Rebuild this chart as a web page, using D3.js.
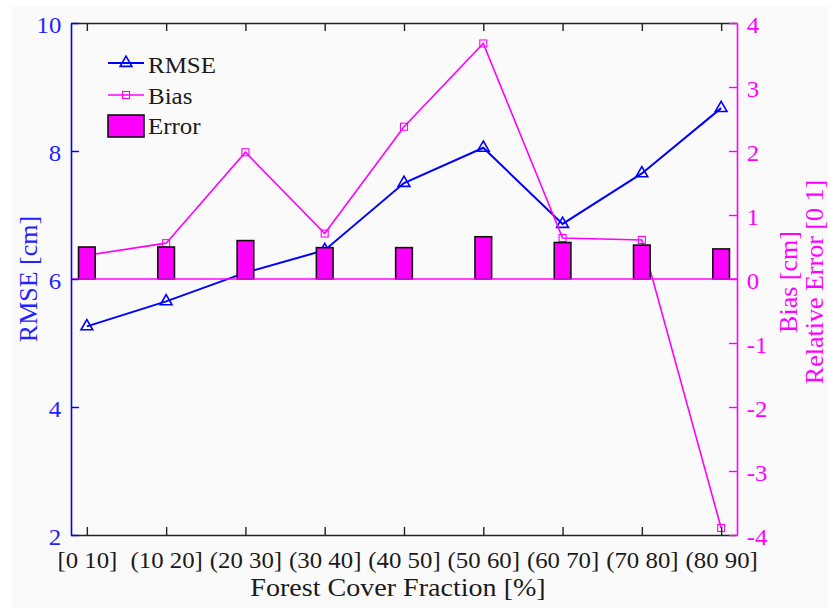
<!DOCTYPE html>
<html>
<head>
<meta charset="utf-8">
<script src="https://cdn.jsdelivr.net/npm/d3@7"></script>
<style>
  html, body { margin: 0; padding: 0; background: #ffffff; }
  svg { display: block; }
  svg text { font-family: "Liberation Serif", "Times New Roman", serif !important; }
</style>
</head>
<body>
<svg id="chart" width="828" height="608"></svg>
<script>
// ---- data ----
const categories = ["[0 10]", "(10 20]", "(20 30]", "(30 40]", "(40 50]", "(50 60]", "(60 70]", "(70 80]", "(80 90]"];
const rmse = [5.26, 5.65, 6.10, 6.45, 7.50, 8.05, 6.86, 7.65, 8.67];
const bias = [0.37, 0.56, 1.98, 0.71, 2.38, 3.68, 0.64, 0.61, -3.89];
const relError = [0.50, 0.50, 0.60, 0.49, 0.49, 0.66, 0.57, 0.53, 0.47];
const leftTicks = [2, 4, 6, 8, 10];
const rightTicks = [-4, -3, -2, -1, 0, 1, 2, 3, 4];
const xLabel = "Forest Cover Fraction [%]";
const leftLabel = "RMSE [cm]";
const rightLabels = ["Bias [cm]", "Relative Error [0 1]"];
const legendNames = ["RMSE", "Bias", "Error"];

// ---- layout ----
const FONT = '"Liberation Serif", "Times New Roman", serif';
const BLUE = "#0000ff", BLUE_TXT = "#2323ff", MAG = "#ff00ff";
const L = 71, R = 737, T = 23, B = 535;
const SX = 1.08; // horizontal text stretch of reference

const svg = d3.select("#chart");
svg.append("rect").attr("x", 12).attr("y", 6).attr("width", 816).attr("height", 602).attr("fill", "#fafafa");

const x = d3.scalePoint().domain(categories).range([L, R]).padding(0.2);
const yL = d3.scaleLinear().domain([2, 10]).range([B, T]);
const yR = d3.scaleLinear().domain([-4, 4]).range([B, T]);

// ---- lines ----
const rmseLine = d3.line().x((d, i) => x(categories[i])).y(d => yL(d));
const biasLine = d3.line().x((d, i) => x(categories[i])).y(d => yR(d));

svg.append("path").datum(rmse).attr("d", rmseLine)
  .attr("fill", "none").attr("stroke", BLUE).attr("stroke-width", 2);
const tri = d3.symbol().type(d3.symbolTriangle).size(60);
svg.selectAll(".tri").data(rmse).join("path")
  .attr("transform", (d, i) => `translate(${x(categories[i])},${yL(d)})`)
  .attr("d", tri).attr("fill", "none").attr("stroke", BLUE).attr("stroke-width", 1.6);

svg.append("path").datum(bias).attr("d", biasLine)
  .attr("fill", "none").attr("stroke", MAG).attr("stroke-width", 1.6);
svg.selectAll(".sq").data(bias).join("rect")
  .attr("x", (d, i) => x(categories[i]) - 3.5).attr("y", d => yR(d) - 3.5)
  .attr("width", 7).attr("height", 7)
  .attr("fill", "none").attr("stroke", MAG).attr("stroke-width", 1.1);

// ---- bars ----
const bw = x.step() * 0.21;
svg.selectAll(".bar").data(relError).join("rect")
  .attr("x", (d, i) => x(categories[i]) - bw / 2)
  .attr("y", d => yR(d)).attr("width", bw).attr("height", d => yR(0) - yR(d))
  .attr("fill", MAG).attr("stroke", "#111").attr("stroke-width", 1.6);

// baseline
svg.append("line").attr("x1", L).attr("x2", R).attr("y1", yR(0)).attr("y2", yR(0))
  .attr("stroke", MAG).attr("stroke-width", 1.5);

// ---- axes ----
function styleAxis(g, color, size) {
  g.attr("font-family", FONT);
  g.select(".domain").attr("stroke", color).attr("stroke-width", 1.6);
  g.selectAll(".tick line").attr("stroke", color).attr("stroke-width", 1.4);
  g.selectAll(".tick text").attr("fill", color).attr("font-size", size).style("font-family", FONT);
}
const fmt = d => String(d);

const gBottom = svg.append("g").attr("transform", `translate(0,${B})`)
  .call(d3.axisBottom(x).tickSizeInner(-8).tickSizeOuter(0).tickPadding(17));
styleAxis(gBottom, "#222", 23);
gBottom.selectAll(".tick text").attr("fill", "#1a1a1a").attr("transform", `scale(${SX},1)`);

const gTop = svg.append("g").attr("transform", `translate(0,${T})`)
  .call(d3.axisTop(x).tickSizeInner(-8).tickSizeOuter(0).tickFormat(""));
styleAxis(gTop, "#222", 23);

const gLeft = svg.append("g").attr("transform", `translate(${L},0)`)
  .call(d3.axisLeft(yL).tickValues(leftTicks).tickFormat(fmt).tickSizeInner(-8).tickSizeOuter(0).tickPadding(9));
styleAxis(gLeft, BLUE, 23);
gLeft.selectAll(".tick text").attr("fill", BLUE_TXT).attr("dy", "0.42em").attr("transform", `scale(${SX},1)`);

const gRight = svg.append("g").attr("transform", `translate(${R},0)`)
  .call(d3.axisRight(yR).tickValues(rightTicks).tickFormat(fmt).tickSizeInner(-8).tickSizeOuter(0).tickPadding(9));
styleAxis(gRight, MAG, 23);
gRight.selectAll(".tick text").attr("dy", "0.42em").attr("transform", `scale(${SX},1)`);

// ---- axis titles ----
function title(tr, txt, color) {
  svg.append("text").attr("transform", tr).attr("text-anchor", "middle")
    .attr("font-size", 26).attr("fill", color).style("font-family", FONT).text(txt);
}
title(`translate(398,596) scale(${SX},1)`, xLabel, "#1a1a1a");
title("translate(37,279) rotate(-90)", leftLabel, BLUE_TXT);
title("translate(797,282) rotate(-90)", rightLabels[0], MAG);
title("translate(823,282) rotate(-90)", rightLabels[1], MAG);

// ---- legend ----
const lg = svg.append("g");
const lx0 = 108, lx1 = 144, lcx = 126;
lg.append("line").attr("x1", lx0).attr("x2", lx1).attr("y1", 63).attr("y2", 63).attr("stroke", BLUE).attr("stroke-width", 2);
lg.append("path").attr("transform", `translate(${lcx},63)`).attr("d", tri).attr("fill", "none").attr("stroke", BLUE).attr("stroke-width", 1.6);
lg.append("line").attr("x1", lx0).attr("x2", lx1).attr("y1", 95).attr("y2", 95).attr("stroke", MAG).attr("stroke-width", 1.6);
lg.append("rect").attr("x", lcx - 3.5).attr("y", 91.5).attr("width", 7).attr("height", 7).attr("fill", "none").attr("stroke", MAG).attr("stroke-width", 1.1);
lg.append("rect").attr("x", lx0).attr("y", 115).attr("width", lx1 - lx0).attr("height", 22).attr("fill", MAG).attr("stroke", "#111").attr("stroke-width", 1.6);
const lyText = [72.7, 103.5, 134];
legendNames.forEach((n, i) => {
  lg.append("text").attr("transform", `translate(148,${lyText[i]}) scale(1.04,1)`)
    .attr("font-size", 24).attr("fill", "#1a1a1a").style("font-family", FONT).text(n);
});
</script>
</body>
</html>
